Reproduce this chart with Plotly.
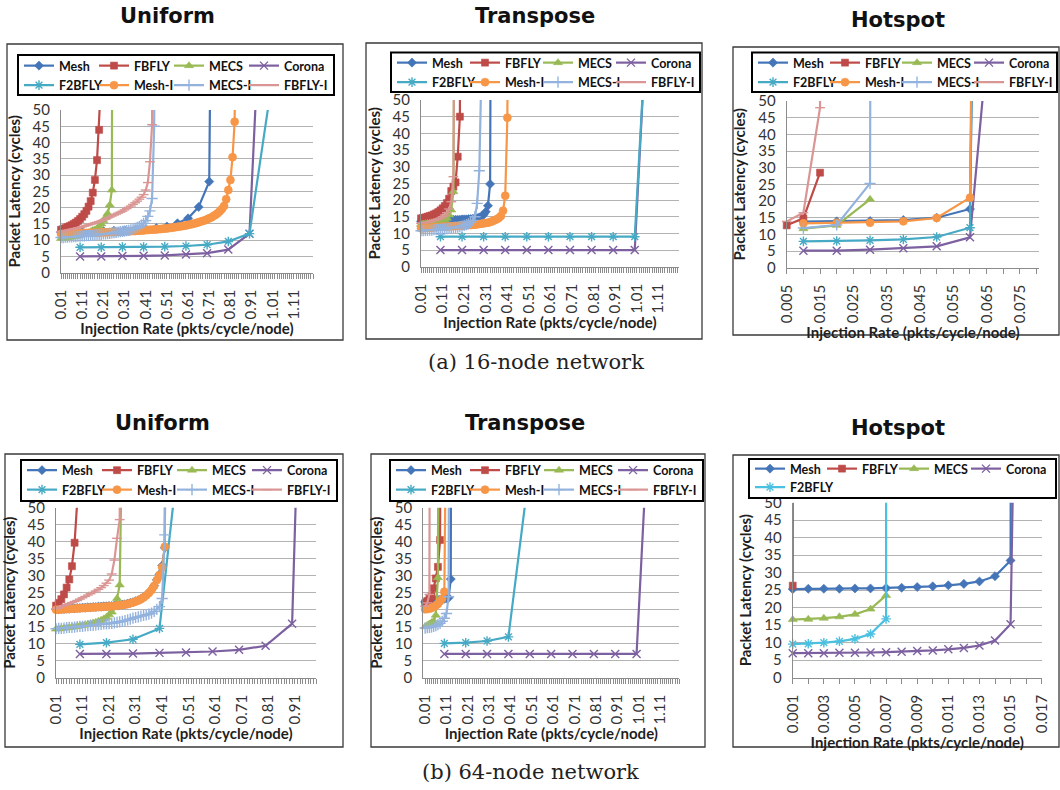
import plotly.graph_objects as go

W, H = 1060, 790


def rates(start, count, step=0.01):
    """Injection-rate categories sampled at a fixed step (x axis categories)."""
    return [round(start + k * step, 5) for k in range(count)]


SERIES = ["Mesh", "FBFLY", "MECS", "Corona", "F2BFLY", "Mesh-I", "MECS-I", "FBFLY-I"]
COLORS = {"Mesh": "#4475B8", "FBFLY": "#BE4B48", "MECS": "#98B954", "Corona": "#7D60A0",
          "F2BFLY": "#46AAC5", "Mesh-I": "#F79646", "MECS-I": "#93B3DE", "FBFLY-I": "#DA9694"}
SYMBOLS = {"Mesh": "diamond", "FBFLY": "square", "MECS": "triangle-up", "Corona": "x-thin-open",
           "F2BFLY": "asterisk-open", "Mesh-I": "circle", "MECS-I": "cross-thin-open",
           "FBFLY-I": "line-ew-open"}
MSIZE = {"Mesh": 7, "FBFLY": 7, "MECS": 8, "Corona": 8, "F2BFLY": 8, "Mesh-I": 8,
         "MECS-I": 8, "FBFLY-I": 7}

# ===================== (a) 16-node network : Uniform =====================
u16_mesh_x = [0.01, 0.06, 0.11, 0.16, 0.21, 0.26, 0.31, 0.36, 0.41, 0.46, 0.51, 0.56, 0.61, 0.66, 0.71, 0.72]
u16_mesh_y = [12.4, 12.5, 12.6, 12.7, 12.8, 12.9, 13.0, 13.2, 13.5, 13.7, 14.2, 15.2, 16.7, 20.2, 28.0, 100]
u16_fbfly_y = [13.2, 13.4, 13.7, 14.0, 14.3, 14.6, 15.0, 15.4, 15.9, 16.5, 17.2, 18.0, 19.0, 20.3, 22.0,
               24.6, 28.5, 34.6, 43.9, 60]
u16_mecs_y = [10.5, 10.6, 10.7, 10.8, 10.9, 11.0, 11.1, 11.2, 11.3, 11.5, 11.7, 11.9, 12.1, 12.3, 12.6,
              12.9, 13.2, 13.6, 14.2, 15.0, 16.0, 17.0, 18.2, 20.8, 25.4, 300]
u16_sparse_x = [0.1, 0.2, 0.3, 0.4, 0.5, 0.6, 0.7, 0.8, 0.9, 1.0]
u16_corona_y = [5.0, 5.0, 5.1, 5.2, 5.3, 5.6, 6.0, 7.1, 12.0, 150]
u16_f2bfly_y = [7.8, 7.8, 7.9, 7.9, 8.0, 8.2, 8.6, 9.6, 12.0, 56]
u16_meshi_y = [11.9, 11.9, 11.9, 12.0, 12.0, 12.0, 12.0, 12.1, 12.1, 12.1,
               12.1, 12.2, 12.2, 12.2, 12.2, 12.3, 12.3, 12.3, 12.3, 12.4,
               12.4, 12.4, 12.4, 12.5, 12.5, 12.5, 12.5, 12.6, 12.6, 12.6,
               12.7, 12.7, 12.7, 12.8, 12.8, 12.8, 12.9, 12.9, 13.0, 13.0,
               13.1, 13.1, 13.2, 13.2, 13.3, 13.3, 13.4, 13.4, 13.5, 13.6,
               13.6, 13.7, 13.8, 13.9, 14.0, 14.1, 14.2, 14.3, 14.4, 14.5,
               14.7, 14.8, 15.0, 15.1, 15.3, 15.5, 15.7, 15.9, 16.1, 16.4,
               16.7, 17.0, 17.4, 17.8, 18.3, 18.9, 19.6, 20.5,
               22.6, 25.4, 28.5, 35.5, 46.4, 150]
u16_mecsi_y = [10.8, 10.8, 10.9, 10.9, 11.0, 11.0, 11.1, 11.1, 11.2, 11.2,
               11.3, 11.3, 11.4, 11.4, 11.5, 11.5, 11.6, 11.7, 11.7, 11.8,
               11.9, 11.9, 12.0, 12.1, 12.2, 12.3, 12.4, 12.5, 12.6, 12.7,
               12.8, 12.9, 13.0, 13.2, 13.4, 13.6, 13.9, 14.2, 14.6, 15.2,
               16.0, 17.3, 19.0, 22.8, 45.0, 200]
u16_fbflyi_y = [12.6, 12.7, 12.9, 13.0, 13.2, 13.3, 13.5, 13.6, 13.8, 13.9,
                14.1, 14.3, 14.5, 14.7, 14.9, 15.1, 15.3, 15.5, 15.7, 15.9,
                16.2, 16.5, 16.8, 17.1, 17.4, 17.7, 18.0, 18.3, 18.6, 18.9,
                19.3, 19.7, 20.1, 20.5, 21.0, 21.5, 22.0, 22.6, 23.2, 24.0,
                25.4, 27.7, 34.1, 45.5, 200]

# ===================== (a) 16-node network : Transpose =====================
t16_mesh_y = [13.6, 13.6, 13.7, 13.7, 13.7, 13.8, 13.8, 13.8, 13.9, 13.9,
              13.9, 14.0, 14.0, 14.0, 14.0, 14.1, 14.1, 14.1, 14.1, 14.2,
              14.2, 14.2, 14.3, 14.3, 14.4, 14.5, 14.6, 14.8, 15.1, 15.6,
              16.5, 18.3, 24.8, 200]
t16_fbfly_y = [14.5, 14.6, 14.8, 15.0, 15.2, 15.4, 15.7, 16.0, 16.4, 16.9,
               17.5, 18.2, 19.1, 20.4, 22.7, 24.0, 25.3, 33.0, 45.0, 200]
t16_mecs_y = [12.7, 12.8, 12.9, 13.0, 13.1, 13.2, 13.3, 13.4, 13.5, 13.7,
              13.9, 14.1, 14.5, 15.5, 17.0, 22.5, 150]
t16_sparse_x = [0.1, 0.2, 0.3, 0.4, 0.5, 0.6, 0.7, 0.8, 0.9, 1.0, 1.1]
t16_corona_y = [5.0, 5.0, 5.0, 5.0, 5.0, 5.0, 5.0, 5.0, 5.0, 5.0, 130]
t16_f2bfly_y = [9.0, 9.0, 9.0, 9.0, 9.0, 9.0, 9.0, 9.0, 9.0, 9.0, 126]
t16_meshi_y = [11.5, 11.5, 11.6, 11.6, 11.7, 11.7, 11.8, 11.8, 11.9, 11.9,
               12.0, 12.0, 12.0, 12.1, 12.1, 12.2, 12.2, 12.2, 12.3, 12.3,
               12.4, 12.4, 12.5, 12.5, 12.6, 12.6, 12.7, 12.8, 12.9, 13.0,
               13.1, 13.2, 13.4, 13.6, 13.9, 14.2, 14.6, 15.2,
               16.8, 21.3, 44.7, 200]
t16_mecsi_y = [10.8, 10.8, 10.9, 10.9, 11.0, 11.0, 11.1, 11.1, 11.2, 11.2,
               11.3, 11.3, 11.4, 11.5, 11.6, 11.7, 11.8, 11.9, 12.0, 12.2,
               12.4, 12.6, 12.9, 13.3, 13.9, 15.0, 19.0, 28.8, 60]
t16_fbflyi_y = [13.0, 13.1, 13.2, 13.3, 13.5, 13.7, 13.9, 14.1, 14.3, 14.6,
                15.0, 15.5, 16.2, 17.3, 19.5, 27.0, 150]

# ===================== (a) 16-node network : Hotspot =====================
h16_x = [0.01, 0.02, 0.03, 0.04, 0.05, 0.06, 0.065]
h16_mesh_y = [13.8, 13.9, 14.0, 14.3, 15.0, 17.6, 340]
h16_fbfly_x = [0.005, 0.01, 0.015]
h16_fbfly_y = [12.7, 14.8, 28.5]
h16_mecs_x = [0.01, 0.02, 0.03]
h16_mecs_y = [11.7, 12.7, 20.5]
h16_corona_y = [5.1, 5.1, 5.4, 5.8, 6.4, 9.1, 64]
h16_f2bfly_y = [7.9, 8.0, 8.2, 8.5, 9.2, 12.0, 500]
h16_meshi_y = [13.3, 13.5, 13.5, 13.9, 14.9, 21.0, 500]
h16_mecsi_x = [0.01, 0.02, 0.03, 0.035]
h16_mecsi_y = [11.9, 12.8, 25.3, 2000]
h16_fbflyi_x = [0.005, 0.01, 0.015, 0.02]
h16_fbflyi_y = [13.9, 16.5, 48.0, 2000]

# ===================== (b) 64-node network : Uniform =====================
u64_mesh_y = [20.1, 20.1, 20.2, 20.2, 20.3, 20.3, 20.4, 20.4, 20.5, 20.5,
              20.6, 20.6, 20.7, 20.7, 20.8, 20.8, 20.9, 20.9, 21.0, 21.0,
              21.1, 21.1, 21.2, 21.3, 21.4, 21.5, 21.6, 21.8, 22.0, 22.2,
              22.5, 22.8, 23.2, 23.7, 24.3, 25.0, 25.9, 27.1, 28.8, 30.4,
              33.0, 38.2, 200]
u64_fbfly_y = [21.2, 22.0, 23.1, 24.5, 26.5, 28.9, 32.8, 39.7, 52.0, 200]
u64_mecs_y = [14.3, 14.4, 14.5, 14.6, 14.7, 14.8, 14.9, 15.0, 15.1, 15.3,
              15.4, 15.5, 15.7, 15.9, 16.1, 16.3, 16.6, 16.9, 17.3, 17.8,
              18.5, 19.3, 20.6, 23.3, 27.3, 75]
u64_sparse_x = [0.1, 0.2, 0.3, 0.4, 0.5, 0.6, 0.7, 0.8, 0.9, 1.0]
u64_corona_y = [7.0, 7.0, 7.1, 7.3, 7.4, 7.7, 8.2, 9.4, 15.9, 280]
u64_f2bfly_x = [0.1, 0.2, 0.3, 0.4, 0.5]
u64_f2bfly_y = [9.8, 10.3, 11.3, 14.5, 85]
u64_meshi_y = [20.0, 20.0, 20.1, 20.1, 20.2, 20.2, 20.3, 20.3, 20.4, 20.4,
               20.5, 20.5, 20.6, 20.6, 20.7, 20.7, 20.8, 20.8, 20.9, 20.9,
               21.0, 21.0, 21.1, 21.2, 21.3, 21.4, 21.5, 21.7, 21.9, 22.1,
               22.4, 22.7, 23.1, 23.6, 24.2, 24.9, 25.8, 27.0, 28.7, 30.2,
               32.5, 38.5, 200]
u64_mecsi_y = [14.4, 14.5, 14.5, 14.6, 14.7, 14.8, 14.8, 14.9, 15.0, 15.1,
               15.1, 15.2, 15.3, 15.4, 15.4, 15.5, 15.6, 15.7, 15.8, 15.8,
               15.9, 16.0, 16.1, 16.3, 16.4, 16.6, 16.8, 17.0, 17.2, 17.5,
               17.7, 17.9, 18.1, 18.3, 18.5, 18.7, 19.0, 19.5, 20.1, 20.9,
               23.3, 42.0, 200]
u64_fbflyi_y = [20.3, 20.6, 20.9, 21.2, 21.5, 21.8, 22.1, 22.4, 22.7, 23.1,
                23.5, 23.9, 24.3, 24.7, 25.1, 25.5, 26.0, 26.5, 27.1, 27.8,
                28.7, 30.5, 34.6, 41.0, 46.5, 200]

# ===================== (b) 64-node network : Transpose =====================
t64_mesh_y = [22.3, 22.4, 22.5, 22.6, 22.7, 22.8, 22.9, 23.0, 23.1, 23.2, 23.3, 23.5, 29.0, 300]
t64_fbfly_y = [21.9, 22.5, 23.2, 24.0, 26.3, 29.2, 32.6, 40.5, 200]
t64_mecs_y = [15.0, 15.4, 15.8, 16.2, 16.6, 18.4, 29.4, 300]
t64_sparse_x = [0.1, 0.2, 0.3, 0.4, 0.5, 0.6, 0.7, 0.8, 0.9, 1.0, 1.1]
t64_corona_y = [7.0, 7.0, 7.0, 7.0, 7.0, 7.0, 7.0, 7.0, 7.0, 7.0, 130]
t64_f2bfly_x = [0.1, 0.2, 0.3, 0.4, 0.5]
t64_f2bfly_y = [10.1, 10.3, 10.8, 12.0, 62]
t64_meshi_y = [20.1, 20.2, 20.3, 20.5, 20.8, 21.2, 21.7, 22.5, 23.2, 25.3, 90]
t64_mecsi_y = [14.6, 14.7, 14.8, 14.9, 15.1, 15.3, 15.6, 16.0, 16.6, 17.5, 18.9, 23.8, 300]
t64_fbflyi_y = [21.0, 22.0, 24.5, 300]

# ===================== (b) 64-node network : Hotspot =====================
h64_mesh_y = [25.3, 25.4, 25.4, 25.4, 25.5, 25.5, 25.6, 25.7, 25.9, 26.1, 26.4, 26.8, 27.5, 29.0, 33.5, 2000]
h64_fbfly_y = [26.3, 10000]
h64_mecs_y = [16.6, 16.7, 17.0, 17.4, 18.1, 19.6, 23.5]
h64_corona_y = [7.0, 7.0, 7.0, 7.1, 7.1, 7.2, 7.3, 7.4, 7.6, 7.8, 8.1, 8.5, 9.2, 10.6, 15.3, 280]
h64_f2bfly_y = [9.6, 9.7, 10.0, 10.4, 11.1, 12.5, 16.8, 10000]

U16 = [("Mesh", u16_mesh_x, u16_mesh_y),
       ("FBFLY", rates(0.01, len(u16_fbfly_y)), u16_fbfly_y),
       ("MECS", rates(0.01, len(u16_mecs_y)), u16_mecs_y),
       ("Corona", u16_sparse_x, u16_corona_y),
       ("F2BFLY", u16_sparse_x, u16_f2bfly_y),
       ("Mesh-I", rates(0.01, len(u16_meshi_y)), u16_meshi_y),
       ("MECS-I", rates(0.01, len(u16_mecsi_y)), u16_mecsi_y),
       ("FBFLY-I", rates(0.01, len(u16_fbflyi_y)), u16_fbflyi_y)]
T16 = [("Mesh", rates(0.01, len(t16_mesh_y)), t16_mesh_y),
       ("FBFLY", rates(0.01, len(t16_fbfly_y)), t16_fbfly_y),
       ("MECS", rates(0.01, len(t16_mecs_y)), t16_mecs_y),
       ("Corona", t16_sparse_x, t16_corona_y),
       ("F2BFLY", t16_sparse_x, t16_f2bfly_y),
       ("Mesh-I", rates(0.01, len(t16_meshi_y)), t16_meshi_y),
       ("MECS-I", rates(0.01, len(t16_mecsi_y)), t16_mecsi_y),
       ("FBFLY-I", rates(0.01, len(t16_fbflyi_y)), t16_fbflyi_y)]
H16 = [("Mesh", h16_x, h16_mesh_y),
       ("FBFLY", h16_fbfly_x, h16_fbfly_y),
       ("MECS", h16_mecs_x, h16_mecs_y),
       ("Corona", h16_x, h16_corona_y),
       ("F2BFLY", h16_x, h16_f2bfly_y),
       ("Mesh-I", h16_x, h16_meshi_y),
       ("MECS-I", h16_mecsi_x, h16_mecsi_y),
       ("FBFLY-I", h16_fbflyi_x, h16_fbflyi_y)]
U64 = [("Mesh", rates(0.01, len(u64_mesh_y)), u64_mesh_y),
       ("FBFLY", rates(0.01, len(u64_fbfly_y)), u64_fbfly_y),
       ("MECS", rates(0.01, len(u64_mecs_y)), u64_mecs_y),
       ("Corona", u64_sparse_x, u64_corona_y),
       ("F2BFLY", u64_f2bfly_x, u64_f2bfly_y),
       ("Mesh-I", rates(0.01, len(u64_meshi_y)), u64_meshi_y),
       ("MECS-I", rates(0.01, len(u64_mecsi_y)), u64_mecsi_y),
       ("FBFLY-I", rates(0.01, len(u64_fbflyi_y)), u64_fbflyi_y)]
T64 = [("Mesh", rates(0.01, len(t64_mesh_y)), t64_mesh_y),
       ("FBFLY", rates(0.01, len(t64_fbfly_y)), t64_fbfly_y),
       ("MECS", rates(0.01, len(t64_mecs_y)), t64_mecs_y),
       ("Corona", t64_sparse_x, t64_corona_y),
       ("F2BFLY", t64_f2bfly_x, t64_f2bfly_y),
       ("Mesh-I", rates(0.01, len(t64_meshi_y)), t64_meshi_y),
       ("MECS-I", rates(0.01, len(t64_mecsi_y)), t64_mecsi_y),
       ("FBFLY-I", rates(0.01, len(t64_fbflyi_y)), t64_fbflyi_y)]
H64 = [("Mesh", rates(0.001, len(h64_mesh_y), 0.001), h64_mesh_y),
       ("FBFLY", rates(0.001, len(h64_fbfly_y), 0.001), h64_fbfly_y),
       ("MECS", rates(0.001, len(h64_mecs_y), 0.001), h64_mecs_y),
       ("Corona", rates(0.001, len(h64_corona_y), 0.001), h64_corona_y),
       ("F2BFLY", rates(0.001, len(h64_f2bfly_y), 0.001), h64_f2bfly_y)]

# ---------------- layout of the six panels (pixel positions) ----------------
PANELS = [
    dict(data=U16, title="Uniform", txy=(167, 16), dx=(61, 313), dy=(110, 272.7),
         xr=[0.0099, 1.2], t0=0.01, dt=0.1, mn=0.01, fmt=".2f",
         border=(7, 44, 343, 340), lx=19, rows=(66, 85.5), pitch=75, by=(55, 95)),
    dict(data=T16, title="Transpose", txy=(535, 16), dx=(421, 679), dy=(100, 266.7),
         xr=[0.0099, 1.205], t0=0.01, dt=0.1, mn=0.01, fmt=".2f",
         border=(366, 43, 702, 339), lx=392, rows=(63, 82.5), pitch=73, by=(52.5, 92)),
    dict(data=H16, title="Hotspot", txy=(898, 20), dx=(786.7, 1039.3), dy=(101, 267.7),
         xr=[0.00499, 0.0808], t0=0.005, dt=0.01, mn=0.005, fmt=".3f",
         border=(733, 47, 1059, 335), lx=753, rows=(63, 82.5), pitch=72, by=(52.5, 92)),
    dict(data=U64, title="Uniform", txy=(162, 423), dx=(56, 316), dy=(507.7, 677.7),
         xr=[0.0099, 0.99], t0=0.01, dt=0.1, mn=0.01, fmt=".2f",
         border=(5, 454, 343, 747), lx=22, rows=(470.5, 490), pitch=75, by=(460, 501)),
    dict(data=T64, title="Transpose", txy=(525, 423), dx=(423.3, 679.3), dy=(507.7, 677.7),
         xr=[0.0015, 1.2], t0=0.01, dt=0.1, mn=0.01, fmt=".2f",
         border=(371, 454, 705, 747), lx=391, rows=(470.5, 490), pitch=74, by=(460, 501)),
    dict(data=H64, title="Hotspot", txy=(898, 428), dx=(792.7, 1041.7), dy=(502.7, 677.7),
         xr=[0.000999, 0.017001], t0=0.001, dt=0.002, mn=0.001, fmt=".3f",
         border=(733, 455, 1059, 747), lx=750, rows=(469, 487.5), pitch=72, by=(459, 498)),
]


def X(px):
    return px / W


def Y(py):
    return 1 - py / H


def lname(n):
    return "legend" if n == 1 else f"legend{n}"


AXIS_GRAY = "#8c8c8c"
TICKFONT = dict(family="Lato", size=15, color="#333333")
TITLEFONT = dict(family="Lato", size=15, color="#1f1f1f", weight="bold")
LAST_ITEM_W = 48

fig = go.Figure()
layout = {}
shapes = []
annotations = []

for i, p in enumerate(PANELS, start=1):
    sx = "" if i == 1 else str(i)
    l1, l2 = 2 * i - 1, 2 * i
    n_series = len(p["data"])
    for k, (name, xs, ys) in enumerate(p["data"]):
        c = COLORS[name]
        if i == 6 and name == "F2BFLY":
            c = "#4BC0E0"
        sym = SYMBOLS[name]
        is_open = sym.endswith("open")
        last_in_row = (k % 4 == 3) or (k == n_series - 1)
        fig.add_trace(go.Scatter(
            x=xs, y=ys, name=name, mode="lines+markers",
            xaxis="x" + sx, yaxis="y" + sx,
            legend=lname(l1 if k < 4 else l2),
            legendwidth=LAST_ITEM_W if last_in_row else p["pitch"] - 45,
            line=dict(color=c, width=2.2),
            marker=dict(symbol=sym, size=MSIZE[name], color=c,
                        line=dict(color=c, width=1.4 if is_open else 0.6)),
            cliponaxis=False, hoverinfo="skip"))

    layout["xaxis" + sx] = dict(
        domain=[X(p["dx"][0]), X(p["dx"][1])], anchor="y" + sx, range=p["xr"],
        tick0=p["t0"], dtick=p["dt"], tickformat=p["fmt"], tickangle=-90,
        ticks="outside", ticklen=5, tickwidth=1, tickcolor=AXIS_GRAY,
        minor=dict(tick0=p["t0"], dtick=p["mn"], ticks="outside", ticklen=5,
                   tickwidth=1, tickcolor=AXIS_GRAY, showgrid=False),
        showgrid=False, zeroline=False, showline=True, linecolor=AXIS_GRAY, linewidth=1.2,
        tickfont=TICKFONT, ticklabelstandoff=5,
        title=dict(text="Injection Rate (pkts/cycle/node)", font=TITLEFONT, standoff=3))
    layout["yaxis" + sx] = dict(
        domain=[Y(p["dy"][1]), Y(p["dy"][0])], anchor="x" + sx, range=[0, 50],
        tick0=0, dtick=5, ticks="", showgrid=True, gridcolor="#b3b3b3", gridwidth=1.3,
        zeroline=False, showline=True, linecolor=AXIS_GRAY, linewidth=1.2,
        tickfont=TICKFONT, ticklabelstandoff=7,
        title=dict(text="Packet Latency (cycles)", font=TITLEFONT, standoff=8))

    for n, ry in zip((l1, l2), p["rows"]):
        layout[lname(n)] = dict(
            x=X(p["lx"]), y=Y(ry), xanchor="left", yanchor="middle", orientation="h",
            entrywidthmode="pixels",
            bgcolor="rgba(0,0,0,0)", borderwidth=0, tracegroupgap=0,
            font=dict(family="Lato", size=12.5, color="#111111", weight="bold"),
            itemclick=False, itemdoubleclick=False, traceorder="normal")

    bx0, by0, bx1, by1 = p["border"]
    shapes.append(dict(type="rect", xref="paper", yref="paper", x0=X(bx0), x1=X(bx1),
                       y0=Y(by1), y1=Y(by0), line=dict(color="#3a3a3a", width=1.3),
                       fillcolor="rgba(0,0,0,0)", layer="above"))
    lb_right = min(p["lx"] + 3 * p["pitch"] + 40 + LAST_ITEM_W + 2, bx1 - 2)
    shapes.append(dict(type="rect", xref="paper", yref="paper", x0=X(p["lx"] - 1), x1=X(lb_right),
                       y0=Y(p["by"][1]), y1=Y(p["by"][0]), line=dict(color="#000000", width=2),
                       fillcolor="rgba(0,0,0,0)", layer="above"))
    annotations.append(dict(text=p["title"], x=X(p["txy"][0]), y=Y(p["txy"][1]),
                            xref="paper", yref="paper", showarrow=False,
                            xanchor="center", yanchor="middle",
                            font=dict(family="DejaVu Sans", size=21, color="#111111", weight="bold")))

annotations.append(dict(text="(a) 16-node network", x=X(536), y=Y(362), xref="paper", yref="paper",
                        showarrow=False, xanchor="center", yanchor="middle",
                        font=dict(family="DejaVu Serif", size=21, color="#222222")))
annotations.append(dict(text="(b) 64-node network", x=X(530), y=Y(772), xref="paper", yref="paper",
                        showarrow=False, xanchor="center", yanchor="middle",
                        font=dict(family="DejaVu Serif", size=21, color="#222222")))

fig.update_layout(
    width=W, height=H,
    margin=dict(l=0, r=0, t=0, b=0, pad=0, autoexpand=False),
    paper_bgcolor="white", plot_bgcolor="white",
    shapes=shapes, annotations=annotations, hovermode=False,
    **layout)

fig.write_html("out.html", config={"displayModeBar": False, "staticPlot": False},
               post_script="document.body.style.margin='0';")
